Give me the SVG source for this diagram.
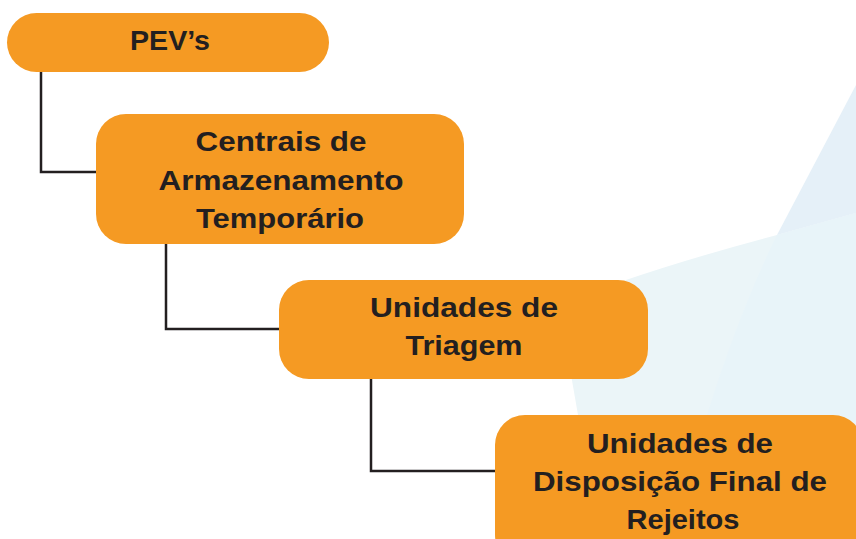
<svg xmlns="http://www.w3.org/2000/svg" width="856" height="539" viewBox="0 0 856 539">
<style>
.box{fill:#f59a23}
.lbl{font-family:"Liberation Sans",Arial,sans-serif;font-weight:bold;font-size:28px;fill:#231f20;text-anchor:middle}
.conn{fill:none;stroke:#231f20;stroke-width:2.5}
</style>
<rect width="856" height="539" fill="#ffffff"/>
<g id="background">
<path d="M 856 213 L 777 235 Q 690 258 620 282 Q 575 300 565 340 L 578 415 L 596 539 L 856 539 Z" fill="#ebf5f8"/>
<path d="M 777 235 Q 740 310 707 415 L 688 539 L 856 539 L 856 213 Z" fill="#e8f4f9"/>
<path d="M 856 85 L 777 235 L 856 213 Z" fill="#e5f0f8"/>
</g>
<g id="connectors">
<path class="conn" d="M 41 72 V 172 H 97"/>
<path class="conn" d="M 166 244 V 329 H 280"/>
<path class="conn" d="M 371 378 V 471 H 496"/>
</g>
<g id="node-pevs">
<rect class="box" x="7" y="13" width="322" height="59" rx="29.5"/>
<text class="lbl" x="170" y="50" textLength="80" lengthAdjust="spacingAndGlyphs">PEV’s</text>
</g>
<g id="node-centrais">
<rect class="box" x="96" y="114" width="368" height="130" rx="30"/>
<text class="lbl" x="281" y="151" textLength="171" lengthAdjust="spacingAndGlyphs">Centrais de</text>
<text class="lbl" x="281" y="190" textLength="245" lengthAdjust="spacingAndGlyphs">Armazenamento</text>
<text class="lbl" x="280" y="228" textLength="168" lengthAdjust="spacingAndGlyphs">Temporário</text>
</g>
<g id="node-triagem">
<rect class="box" x="279" y="280" width="369" height="99" rx="30"/>
<text class="lbl" x="464" y="317" textLength="188" lengthAdjust="spacingAndGlyphs">Unidades de</text>
<text class="lbl" x="464" y="355" textLength="117" lengthAdjust="spacingAndGlyphs">Triagem</text>
</g>
<g id="node-disposicao">
<rect class="box" x="495" y="415" width="368" height="150" rx="30"/>
<text class="lbl" x="680" y="453" textLength="186" lengthAdjust="spacingAndGlyphs">Unidades de</text>
<text class="lbl" x="680" y="491" textLength="294" lengthAdjust="spacingAndGlyphs">Disposição Final de</text>
<text class="lbl" x="683" y="529" textLength="113" lengthAdjust="spacingAndGlyphs">Rejeitos</text>
</g>
</svg>
